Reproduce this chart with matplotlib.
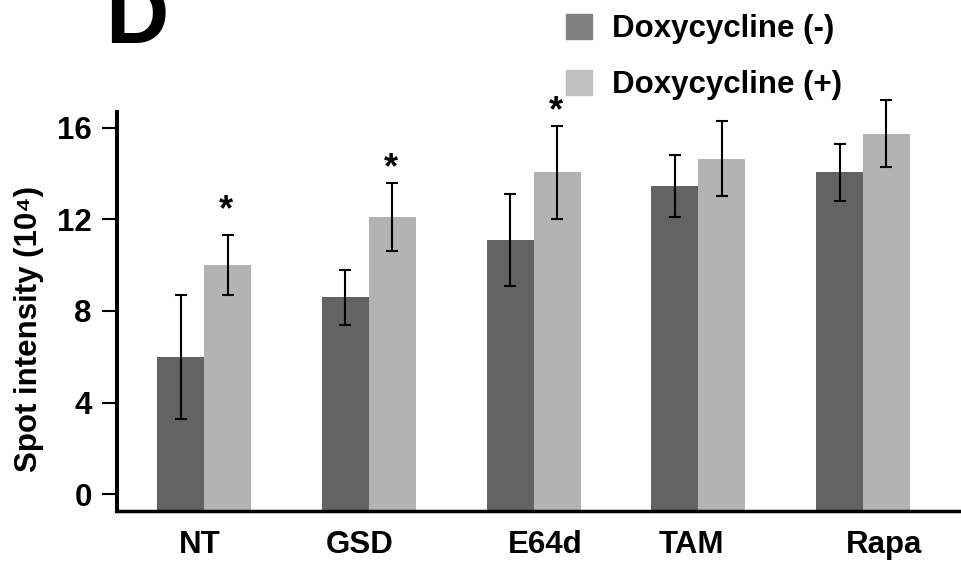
import matplotlib
matplotlib.use("Agg")
import matplotlib.pyplot as plt
import matplotlib.patches as mpatches
import numpy as np

plt.rcParams['font.family'] = ['Liberation Sans', 'DejaVu Sans']
plt.rcParams['font.weight'] = 'bold'

# data (spot intensity, x10^4)
groups = ['NT', 'GSD', 'E64d', 'TAM', 'Rapa']
dox_minus = [6.0, 8.6, 11.1, 13.45, 14.05]
dox_minus_err = [2.7, 1.2, 2.0, 1.35, 1.25]
dox_plus = [10.0, 12.1, 14.05, 14.65, 15.75]
dox_plus_err = [1.3, 1.5, 2.05, 1.65, 1.45]
# significance marks: group index and height of the star
star_groups = [0, 1, 2]
star_heights = [12.4, 14.2, 16.7]
# small horizontal shifts of the category labels, as in the figure
label_shift = [-0.03, -0.055, 0.07, -0.04, 0.13]

dark = '#636363'
light = '#b3b3b3'

fig = plt.figure(figsize=(9.61, 5.62), dpi=100)
ax = fig.add_axes([0.1217, 0.0907, 0.8783, 0.71])

y_lo, y_hi = -0.74, 16.69
x = np.arange(len(groups))
w = 0.285

# bars rise from the x axis line, which sits a little below 0
ax.bar(x - w / 2, np.array(dox_minus) - y_lo, w, bottom=y_lo, color=dark)
ax.bar(x + w / 2, np.array(dox_plus) - y_lo, w, bottom=y_lo, color=light)
for xs, vals, errs in [(x - w / 2, dox_minus, dox_minus_err),
                       (x + w / 2, dox_plus, dox_plus_err)]:
    eb = ax.errorbar(xs, vals, yerr=errs, fmt='none', ecolor='black',
                     elinewidth=1.5, capsize=4.5, capthick=1.5)
    for art in eb.lines[1] + eb.lines[2]:
        art.set_clip_on(False)

for g, h in zip(star_groups, star_heights):
    ax.text(g + w / 2 - 0.01, h, '*', ha='center', va='center',
            fontsize=26, fontweight='bold', clip_on=False)

ax.set_xlim(-0.53, 4.595)
ax.set_ylim(y_lo, y_hi)
ax.set_yticks([0, 4, 8, 12, 16])
ax.set_xticks(x + np.array(label_shift))
ax.set_xticklabels(groups)

ax.spines['top'].set_visible(False)
ax.spines['right'].set_visible(False)
ax.spines['left'].set_linewidth(2.9)
ax.spines['bottom'].set_linewidth(2.5)
ax.tick_params(axis='y', length=11, width=1.5, pad=7, labelsize=22.5)
ax.tick_params(axis='x', length=0, pad=14, labelsize=22.5)
for lab in ax.get_xticklabels() + ax.get_yticklabels():
    lab.set_fontweight('bold')

ax.set_ylabel('Spot intensity (10\u2074)', fontsize=22.5, fontweight='bold')
ax.yaxis.set_label_coords(-0.086, 0.455)

# legend
handles = [mpatches.Patch(color='#808080', label='Doxycycline (-)'),
           mpatches.Patch(color='#c0c0c0', label='Doxycycline (+)')]
fig.legend(handles=handles, loc='upper left', bbox_to_anchor=(566 / 961, 1 - 14 / 562),
           frameon=False, prop={'size': 22.5, 'weight': 'bold'},
           handlelength=0.83, handleheight=0.86, handletextpad=0.64,
           labelspacing=0.82, borderpad=0, borderaxespad=0)

# panel letter
fig.text(105 / 961, 1 - 43.3 / 562, 'D', fontsize=63, fontweight='bold',
         ha='left', va='baseline')

fig.savefig('out.png', dpi=100)
